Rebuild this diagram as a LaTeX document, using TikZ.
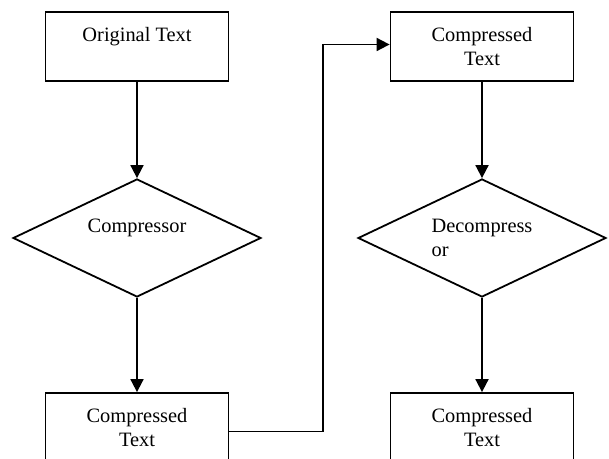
\documentclass[tikz,border=0pt]{standalone}
\usepackage{fontspec}
\setmainfont{Liberation Serif}
\usetikzlibrary{shapes.geometric,arrows.meta}
\begin{document}
\begin{tikzpicture}[x=0.5pt,y=-0.5pt,line width=0.9pt,
  font=\fontsize{10.2pt}{12.4pt}\selectfont,
  stepbox/.style={draw,rectangle,minimum width=91.5pt,minimum height=34.5pt,
    inner sep=0pt,align=center},
  decision/.style={draw,diamond,aspect=2.1,minimum width=124pt,minimum height=59pt,
    inner sep=0pt,align=left},
  flow/.style={-{Triangle[length=6.5pt,width=6.5pt]}}]
\useasboundingbox (0,0) rectangle (609,459);
\clip (0,0) rectangle (609,459);

\node[stepbox] (orig) at (137,46.5) {Original Text\\\mbox{}};
\node[decision] (comp) at (137,238) {Compressor\\\mbox{}};
\node[stepbox] (packA) at (137,427.5) {Compressed\\Text};

\node[stepbox] (packB) at (482,46.5) {Compressed\\Text};
\node[decision] (decomp) at (482,238) {Decompress\\or};
\node[stepbox] (result) at (482,427.5) {Compressed\\Text};

\draw[flow] (orig) -- (comp);
\draw[flow] (comp) -- (packA);
\draw[flow] (packB) -- (decomp);
\draw[flow] (decomp) -- (result);

\coordinate (turn) at (323,44.5);
\draw[flow] ([yshift=-2pt]packA.east) -| (turn) -- (turn -| packB.west);
\end{tikzpicture}
\end{document}
